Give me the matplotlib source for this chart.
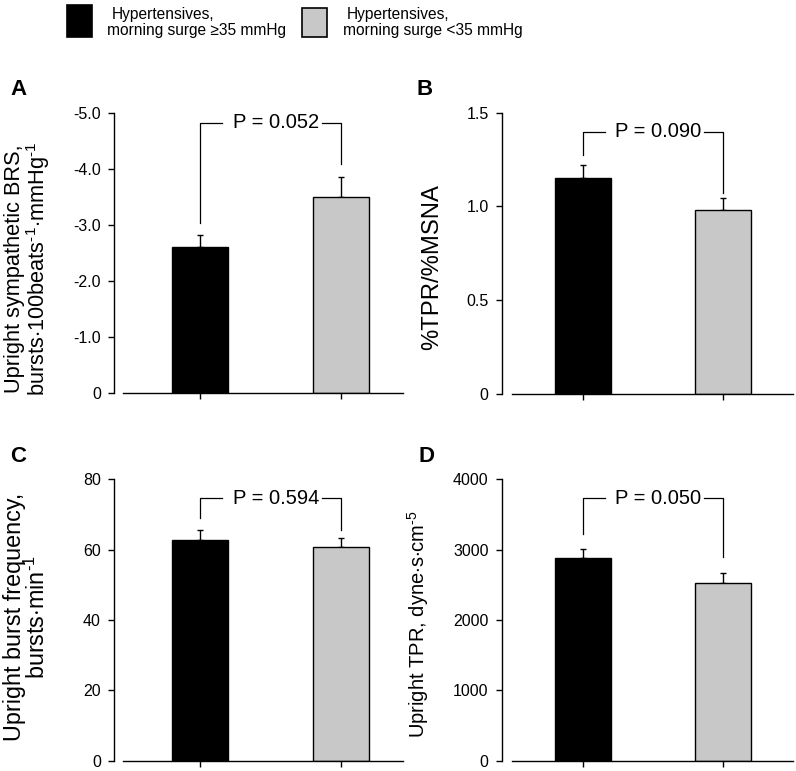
import matplotlib
matplotlib.use("Agg")
import matplotlib.pyplot as plt
from matplotlib.patches import Rectangle

plt.rcParams['font.family'] = ['Liberation Sans', 'DejaVu Sans']
plt.rcParams['mathtext.fontset'] = 'custom'
plt.rcParams['mathtext.rm'] = 'Liberation Sans'
plt.rcParams['mathtext.it'] = 'Liberation Sans:italic'

# data
group_line1 = ["Hypertensives,", "Hypertensives,"]
group_line2 = ["morning surge \u226535 mmHg", "morning surge <35 mmHg"]
colors = ["black", "#c8c8c8"]

brs_mean = [-2.61, -3.50]
brs_err = [0.22, 0.35]
ratio_mean = [1.154, 0.981]
ratio_err = [0.069, 0.066]
burst_mean = [62.7, 60.7]
burst_err = [2.9, 2.5]
tpr_mean = [2886, 2522]
tpr_err = [127, 151]

p_values = ["0.052", "0.090", "0.594", "0.050"]
# bracket: top level, left leg end, right leg end
brackets = [(-4.83, -3.04, -4.09), (1.399, 1.275, 1.074),
            (74.6, 68.9, 65.6), (3730, 3218, 2891)]

ylabels = [r"Upright sympathetic BRS," + "\n" +
           r"bursts$\cdot$100beats$^{\text{-1}}$$\cdot$mmHg$^{\text{-1}}$",
           "%TPR/%MSNA",
           r"Upright burst frequency," + "\n" + r"bursts$\cdot$min$^{\text{-1}}$",
           r"Upright TPR, dyne$\cdot$s$\cdot$cm$^{\text{-5}}$"]
yticks = [[0, -1, -2, -3, -4, -5], [0, 0.5, 1.0, 1.5],
          [0, 20, 40, 60, 80], [0, 1000, 2000, 3000, 4000]]
yticklabels = [["0", "-1.0", "-2.0", "-3.0", "-4.0", "-5.0"],
               ["0", "0.5", "1.0", "1.5"],
               ["0", "20", "40", "60", "80"],
               ["0", "1000", "2000", "3000", "4000"]]
ylims = [(0, -5), (0, 1.5), (0, 80), (0, 4000)]
panel_letters = ["A", "B", "C", "D"]

means = [brs_mean, ratio_mean, burst_mean, tpr_mean]
errs = [brs_err, ratio_err, burst_err, tpr_err]

W, H = 796, 771
fig = plt.figure(figsize=(W / 100, H / 100), dpi=100)

# axes boxes in pixels: x0, x1, ytop, ybottom
boxes = [(114, 403, 113, 393), (501.7, 793, 112.7, 394),
         (114, 403, 479.3, 760.7), (501.7, 793, 479.3, 760.7)]
xl = [(-0.61, 1.44, -0.546), (-0.58, 1.5, -0.507),
      (-0.61, 1.44, -0.546), (-0.58, 1.5, -0.507)]
label_x = [-0.215, -0.2, -0.222, -0.244]
label_y = [0.445, 0.45, 0.51, 0.487]
label_size = [15.7, 17.2, 16.8, 14.5]
letter_pos = [(10, 95), (416, 95), (10, 462), (418, 462)]

x = [0, 1]
for i in range(4):
    x0, x1, yt, yb = boxes[i]
    ax = fig.add_axes([x0 / W, (H - yb) / H, (x1 - x0) / W, (yb - yt) / H])
    m = means[i]
    e = errs[i]
    ax.bar(x, m, width=0.40, color=colors, edgecolor="black", linewidth=1.0, zorder=2)
    if i == 0:
        yerr = [e, [0, 0]]
    else:
        yerr = [[0, 0], e]
    ax.errorbar(x, m, yerr=yerr, fmt="none", ecolor="black", elinewidth=1.0,
                capsize=2.0, capthick=1.0, zorder=1)

    # significance bracket with gap for the label
    top, lleg, rleg = brackets[i]
    ax.plot([0, 0, 0.155], [lleg, top, top], color="black", lw=0.9)
    ax.plot([0.865, 1, 1], [top, top, rleg], color="black", lw=0.9)
    ax.text(0.54, top, "P = " + p_values[i], ha="center", va="center",
            fontsize=14.5)

    ax.set_ylim(*ylims[i])
    ax.set_xlim(xl[i][0], xl[i][1])
    ax.spines['top'].set_visible(False)
    ax.spines['right'].set_visible(False)
    ax.spines['bottom'].set_bounds(xl[i][2], xl[i][1])
    ax.spines['left'].set_linewidth(1.0)
    ax.spines['bottom'].set_linewidth(1.0)
    ax.set_xticks(x)
    ax.set_xticklabels([])
    ax.set_yticks(yticks[i])
    ax.set_yticklabels(yticklabels[i])
    ax.tick_params(axis='y', direction='out', length=4.5, width=1.0, pad=5,
                   labelsize=11.5)
    ax.tick_params(axis='x', direction='out', length=4, width=1.0)
    ax.set_ylabel(ylabels[i], fontsize=label_size[i], linespacing=0.95)
    ax.yaxis.set_label_coords(label_x[i], label_y[i])

    lx, ly = letter_pos[i]
    fig.text(lx / W, (H - ly) / H, panel_letters[i], fontsize=16,
             fontweight="bold", ha="left", va="baseline")

# legend drawn by hand
sq_x = [67, 302]
sq_y = [(5, 37), (8, 37)]
txt_x = [(112, 107), (347, 343)]
for k in range(2):
    ya, yb2 = sq_y[k]
    fig.add_artist(Rectangle((sq_x[k] / W, (H - yb2) / H), 25 / W, (yb2 - ya) / H,
                             facecolor=colors[k], edgecolor="black", linewidth=1.2,
                             transform=fig.transFigure))
    fig.text(txt_x[k][0] / W, (H - 18.5) / H, group_line1[k],
             fontsize=11.2, va="baseline", ha="left")
    fig.text(txt_x[k][1] / W, (H - 35.5) / H, group_line2[k],
             fontsize=11.2, va="baseline", ha="left")

fig.savefig("out.png", dpi=100)
